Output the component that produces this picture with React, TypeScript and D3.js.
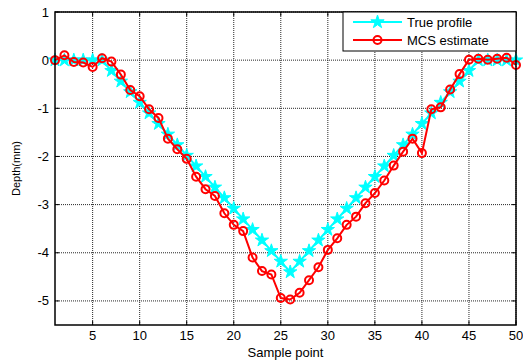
import React from "react";
import * as d3 from "d3";

const samplePoints: number[] = Array.from({ length: 50 }, (_, i) => i + 1);

const trueProfile: number[] = [
  0, 0, 0, 0, 0, 0, -0.22, -0.44, -0.66, -0.88,
  -1.1, -1.32, -1.54, -1.76, -1.98, -2.2, -2.42, -2.64, -2.86, -3.08,
  -3.3, -3.52, -3.74, -3.96, -4.18, -4.4, -4.18, -3.96, -3.74, -3.52,
  -3.3, -3.08, -2.86, -2.64, -2.42, -2.2, -1.98, -1.76, -1.54, -1.32,
  -1.1, -0.88, -0.66, -0.44, -0.22, 0, 0, 0, 0, 0,
];

const mcsEstimate: number[] = [
  0, 0.1, -0.04, -0.05, -0.14, 0.04, -0.03, -0.3, -0.62, -0.75,
  -1.02, -1.2, -1.63, -1.85, -2.05, -2.42, -2.68, -2.82, -3.18, -3.42,
  -3.55, -4.1, -4.38, -4.45, -4.94, -4.97, -4.83, -4.57, -4.3, -3.94,
  -3.7, -3.42, -3.25, -2.97, -2.76, -2.5, -2.19, -1.9, -1.63, -1.93,
  -1.02, -0.98, -0.61, -0.29, 0.01, 0.03, 0.01, 0.03, 0.05, -0.1,
];

const xTicks: number[] = [5, 10, 15, 20, 25, 30, 35, 40, 45, 50];
const yTicks: number[] = [1, 0, -1, -2, -3, -4, -5];

const seriesNames: string[] = ["True profile", "MCS estimate"];

const W = 523;
const H = 363;
const M = { left: 55, right: 7, top: 12, bottom: 38 };
const FONT = "'Liberation Sans', Arial, sans-serif";

export default function App() {
  const x = d3.scaleLinear().domain([1, 50]).range([M.left, W - M.right]);
  const y = d3.scaleLinear().domain([-5.5, 1]).range([H - M.bottom, M.top]);

  const line = d3
    .line<number>()
    .x((_, i) => x(samplePoints[i]))
    .y((d) => y(d));

  const star = d3.symbol().type(d3.symbolStar).size(55)() as string;

  const x0 = M.left;
  const x1 = W - M.right;
  const y0 = M.top;
  const y1 = H - M.bottom;

  const lx = 343;
  const ly = 12;

  return (
    <svg
      width={W}
      height={H}
      style={{ position: "absolute", left: 0, top: 0, background: "#fff" }}
      fontFamily={FONT}
    >
      <rect x={0} y={0} width={W} height={H} fill="#fff" />
      {/* grid */}
      <g stroke="#000" strokeWidth={1} strokeDasharray="1,1" opacity={0.85}>
        {xTicks.map((t) => (
          <line key={"gx" + t} x1={x(t)} x2={x(t)} y1={y0} y2={y1} />
        ))}
        {yTicks.map((t) => (
          <line key={"gy" + t} x1={x0} x2={x1} y1={y(t)} y2={y(t)} />
        ))}
      </g>
      {/* inward ticks */}
      <g stroke="#000" strokeWidth={1}>
        {xTicks.map((t) => (
          <g key={"tx" + t}>
            <line x1={x(t)} x2={x(t)} y1={y1} y2={y1 - 4} />
            <line x1={x(t)} x2={x(t)} y1={y0} y2={y0 + 4} />
          </g>
        ))}
        {yTicks.map((t) => (
          <g key={"ty" + t}>
            <line x1={x0} x2={x0 + 4} y1={y(t)} y2={y(t)} />
            <line x1={x1} x2={x1 - 4} y1={y(t)} y2={y(t)} />
          </g>
        ))}
      </g>
      {/* true profile */}
      <path d={line(trueProfile) || ""} fill="none" stroke="#00ffff" strokeWidth={2} />
      {trueProfile.map((v, i) => (
        <path
          key={"s" + i}
          d={star}
          transform={`translate(${x(samplePoints[i])},${y(v)})`}
          fill="#00ffff"
          stroke="#00ffff"
          strokeWidth={1}
        />
      ))}
      {/* MCS estimate */}
      <path d={line(mcsEstimate) || ""} fill="none" stroke="#ff0000" strokeWidth={2} />
      {mcsEstimate.map((v, i) => (
        <circle
          key={"c" + i}
          cx={x(samplePoints[i])}
          cy={y(v)}
          r={4}
          fill="none"
          stroke="#ff0000"
          strokeWidth={2}
        />
      ))}
      {/* box */}
      <rect x={x0} y={y0} width={x1 - x0} height={y1 - y0} fill="none" stroke="#000" strokeWidth={1.5} />
      {/* tick labels */}
      <g fontSize={13} fill="#000">
        {xTicks.map((t) => (
          <text key={"lx" + t} x={x(t)} y={y1 + 15} textAnchor="middle">
            {t}
          </text>
        ))}
        {yTicks.map((t) => (
          <text key={"ly" + t} x={x0 - 6} y={y(t) + 4.5} textAnchor="end">
            {t}
          </text>
        ))}
      </g>
      <text x={(x0 + x1) / 2} y={357} textAnchor="middle" fontSize={13}>
        Sample point
      </text>
      <text
        transform={`translate(20,${(y0 + y1) / 2}) rotate(-90)`}
        textAnchor="middle"
        fontSize={11}
      >
        Depth(mm)
      </text>
      {/* legend */}
      <g>
        <rect x={lx} y={ly} width={x1 - lx} height={39} fill="#fff" stroke="#000" strokeWidth={1} />
        <line x1={lx + 10} x2={lx + 59} y1={ly + 10} y2={ly + 10} stroke="#00ffff" strokeWidth={2} />
        <path d={star} transform={`translate(${lx + 34.5},${ly + 10})`} fill="#00ffff" stroke="#00ffff" />
        <text x={lx + 64} y={ly + 15} fontSize={13}>
          {seriesNames[0]}
        </text>
        <line x1={lx + 10} x2={lx + 59} y1={ly + 28} y2={ly + 28} stroke="#ff0000" strokeWidth={2} />
        <circle cx={lx + 34.5} cy={ly + 28} r={4} fill="none" stroke="#ff0000" strokeWidth={2} />
        <text x={lx + 64} y={ly + 33} fontSize={13}>
          {seriesNames[1]}
        </text>
      </g>
    </svg>
  );
}
